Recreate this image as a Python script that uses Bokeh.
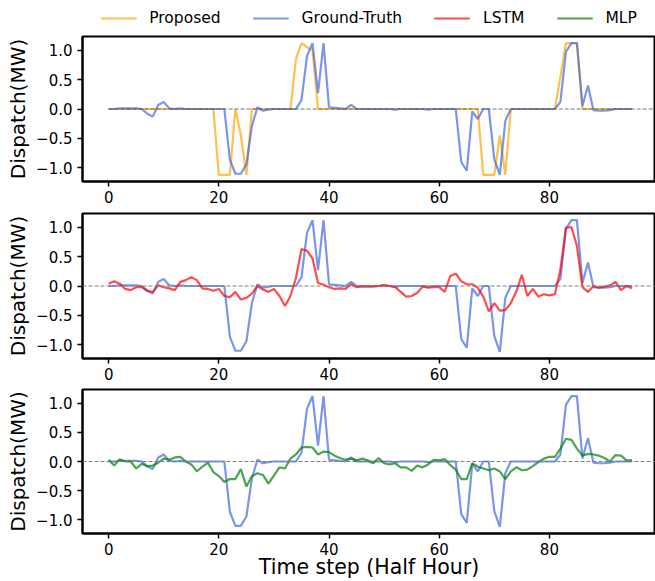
from bokeh.plotting import figure
from bokeh.layouts import column
from bokeh.models import (Range1d, FixedTicker, Span, Legend, LegendItem,
                          CustomJSTickFormatter)
from bokeh.embed import file_html
from bokeh.resources import INLINE

# ---------------- data ----------------
steps = list(range(96))

ground_truth = [0, 0, 0.01, 0.01, 0.01, 0.01, 0.0, -0.08, -0.13, 0.07,
                0.12, 0.01, 0.0, 0.01, 0.0, 0.0, 0.0, 0.0, 0.0, 0.0,
                0.0, 0.0, -0.86, -1.1, -1.1, -0.94, -0.29, 0.03, -0.03, -0.01,
                0.0, 0.0, 0.0, 0.0, 0.0, 0.15, 0.9, 1.12, 0.27, 1.12,
                0.03, 0.02, 0.01, 0.0, 0.07, 0.0, 0.0, 0.0, 0.0, 0.0,
                0.0, 0.0, -0.01, 0.0, 0.0, 0.0, 0.0, 0.0, -0.01, 0.0,
                0.0, 0.0, 0.0, 0.0, -0.9, -1.05, -0.04, -0.17, 0.0, 0.0,
                -0.85, -1.12, -0.2, 0.0, 0.0, 0.0, 0.0, 0.0, 0.0, 0.0,
                0.0, 0.0, 0.12, 0.97, 1.12, 1.12, 0.05, 0.4, -0.02, -0.03,
                -0.03, -0.02, 0.0, 0.0, 0.0, 0.0]

proposed = [0, 0, 0, 0, 0, 0, 0, 0, 0, 0,
            0, 0, 0, 0, 0, 0, 0, 0, 0, 0,
            -1.12, -1.12, -1.12, 0.0, -0.45, -1.12, 0.0, 0, 0, 0,
            0, 0, 0, 0, 0.85, 1.12, 1.05, 1.0, 0.0, 0,
            0, 0, 0, 0, 0, 0, 0, 0, 0, 0,
            0, 0, 0, 0, 0, 0, 0, 0, 0, 0,
            0, 0, 0, 0, 0, 0, 0, 0, -1.12, -1.12,
            -1.12, -0.45, -1.12, 0.0, 0, 0, 0, 0, 0, 0,
            0, 0, 0.55, 1.12, 1.12, 1.12, 0.0, 0, 0, 0,
            0, 0, 0, 0, 0, 0]

lstm = [0.04, 0.08, 0.04, -0.05, -0.07, -0.02, -0.02, -0.08, -0.1, 0.01,
        -0.02, -0.04, -0.07, 0.07, 0.1, 0.15, 0.1, -0.04, -0.05, -0.08,
        -0.05, -0.17, -0.19, -0.1, -0.23, -0.2, -0.13, 0.0, -0.06, -0.1,
        -0.05, -0.17, -0.34, -0.17, 0.14, 0.63, 0.6, 0.47, 0.05, 0.02,
        -0.02, -0.05, -0.04, -0.05, 0.03, -0.02, -0.01, -0.01, -0.01, 0.0,
        0.02, 0.0, -0.02, -0.1, -0.18, -0.17, -0.12, -0.01, -0.03, -0.02,
        -0.02, -0.1, 0.17, 0.21, 0.08, 0.03, 0.03, -0.03, -0.18, -0.43,
        -0.29, -0.42, -0.41, -0.29, -0.09, 0.19, -0.17, -0.05, -0.18, -0.14,
        -0.16, -0.14, 0.28, 0.99, 1.0, 0.68, -0.02, -0.1, 0.0, -0.03,
        -0.01, 0.01, 0.07, -0.07, 0.0, -0.04]

mlp = [0.03, -0.07, 0.04, 0.0, 0.0, -0.12, -0.04, -0.08, -0.07, -0.02,
       0.05, 0.03, 0.07, 0.08, 0.0, -0.05, -0.17, -0.09, -0.02, -0.18,
       -0.25, -0.35, -0.3, -0.3, -0.13, -0.43, -0.25, -0.2, -0.23, -0.38,
       -0.24, -0.1, -0.12, 0.05, 0.12, 0.24, 0.25, 0.24, 0.12, 0.17,
       0.16, 0.1, 0.06, 0.03, 0.05, 0.02, 0.05, 0.02, -0.03, 0.06,
       -0.03, -0.05, -0.03, -0.1, -0.1, -0.16, -0.07, -0.1, -0.05, 0.03,
       0.02, 0.04, -0.06, -0.14, -0.3, -0.3, -0.03, -0.09, -0.12, -0.15,
       -0.12, -0.17, -0.3, -0.17, -0.1, -0.15, -0.14, -0.08, -0.01, 0.05,
       0.08, 0.08, 0.22, 0.39, 0.37, 0.22, 0.1, 0.13, 0.12, 0.1,
       0.06, 0.0, 0.11, 0.1, 0.02, 0.02]

x_ticks = [0, 20, 40, 60, 80]
y_ticks = [-1.0, -0.5, 0.0, 0.5, 1.0]
series_names = ["Proposed", "Ground-Truth", "LSTM", "MLP"]

FONT = "DejaVu Sans"
C_PROP = "#FFA500"
C_GT = "#4169E1"
C_LSTM = "#FF0000"
C_MLP = "#008000"
ALPHA = 0.7
LW = 2.2


def make_fig(height, top, bottom, xlabel=None):
    p = figure(width=655, height=height,
               x_range=Range1d(-4.75, 99.26), y_range=Range1d(-1.232, 1.232),
               output_backend="svg", toolbar_location=None,
               min_border_left=82, min_border_right=0,
               min_border_top=top, min_border_bottom=bottom)
    p.grid.visible = False
    p.outline_line_color = "black"
    p.outline_line_width = 2
    p.outline_line_alpha = 1.0
    p.background_fill_color = "white"
    p.border_fill_color = "white"
    for ax in (p.xaxis[0], p.yaxis[0]):
        ax.axis_line_color = "black"
        ax.axis_line_width = 2
        ax.major_tick_in = 0
        ax.major_tick_out = 5
        ax.major_tick_line_width = 1.5
        ax.minor_tick_line_color = None
        ax.major_label_text_font = FONT
        ax.major_label_text_font_size = "15px"
        ax.major_label_text_color = "black"
        ax.axis_label_text_font = FONT
        ax.axis_label_text_font_style = "normal"
        ax.axis_label_text_font_size = "20px"
        ax.axis_label_text_color = "black"
    p.xaxis.ticker = FixedTicker(ticks=x_ticks)
    p.yaxis.ticker = FixedTicker(ticks=y_ticks)
    p.yaxis.formatter = CustomJSTickFormatter(
        code="return tick.toFixed(1).replace('-', '\u2212');")
    p.yaxis.axis_label = "Dispatch(MW)"
    p.yaxis.axis_label_standoff = 3
    p.xaxis.major_label_standoff = 4
    if xlabel:
        p.xaxis.axis_label = xlabel
        p.xaxis.axis_label_text_font_size = "20.5px"
        p.xaxis.axis_label_standoff = -3
    return p


# ---- legend strip ----
p0 = figure(width=655, height=35, x_range=Range1d(0, 1), y_range=Range1d(0, 1),
            output_backend="svg", toolbar_location=None,
            x_axis_location=None, y_axis_location=None,
            min_border_left=82, min_border_right=0,
            min_border_top=0, min_border_bottom=0)
p0.grid.visible = False
p0.outline_line_color = None
p0.background_fill_color = "white"
p0.border_fill_color = "white"
leg_r = []
for c in (C_PROP, C_GT, C_LSTM, C_MLP):
    leg_r.append(p0.line([-5], [-5], line_color=c, line_alpha=ALPHA, line_width=LW))
legend = Legend(items=[LegendItem(label=n, renderers=[r]) for n, r in zip(series_names, leg_r)],
                orientation="horizontal", location="center",
                glyph_width=36, glyph_height=20, label_height=20,
                label_standoff=13, spacing=32, padding=0, margin=0,
                label_text_font=FONT, label_text_font_size="15.5px",
                label_text_color="black",
                border_line_color=None, background_fill_alpha=0)
p0.add_layout(legend, "center")

# ---- top panel ----
p1 = make_fig(177, 1, 31)
p1.line(steps, proposed, line_color=C_PROP, line_alpha=ALPHA, line_width=LW)
p1.line(steps, ground_truth, line_color=C_GT, line_alpha=ALPHA, line_width=LW)
p1.line([0, 100], [0, 0], line_color="#555555", line_dash="4 2", line_width=1.2,
        line_alpha=0.8)

# ---- middle panel ----
p2 = make_fig(176, 1, 30)
p2.line(steps, ground_truth, line_color=C_GT, line_alpha=ALPHA, line_width=LW)
p2.line(steps, lstm, line_color=C_LSTM, line_alpha=ALPHA, line_width=LW)
p2.add_layout(Span(location=0, dimension="width", line_color="#808080",
                   line_dash="4 2", line_width=1.2))

# ---- bottom panel ----
p3 = make_fig(193, 1, 47, xlabel="Time step (Half Hour)")
p3.line(steps, ground_truth, line_color=C_GT, line_alpha=ALPHA, line_width=LW)
p3.line(steps, mlp, line_color=C_MLP, line_alpha=ALPHA, line_width=LW)
p3.add_layout(Span(location=0, dimension="width", line_color="#808080",
                   line_dash="4 2", line_width=1.2))

layout = column(p0, p1, p2, p3, spacing=0)
open("out.html", "w").write(file_html(layout, INLINE))
